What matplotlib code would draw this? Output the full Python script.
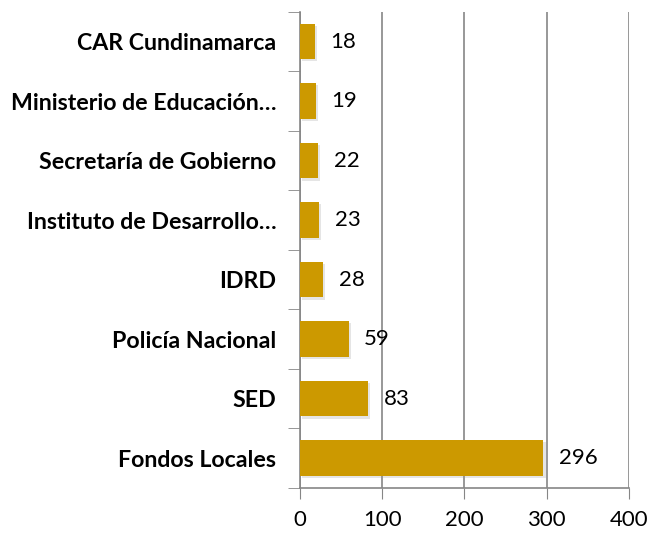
import matplotlib
matplotlib.use("Agg")
from matplotlib import pyplot as plt
from matplotlib import patheffects as pe

categories = ["Fondos Locales", "SED", "Policía Nacional", "IDRD",
              "Instituto de Desarrollo…", "Secretaría de Gobierno",
              "Ministerio de Educación…", "CAR Cundinamarca"]
values = [296, 83, 59, 28, 23, 22, 19, 18]
x_ticks = [0, 100, 200, 300, 400]

plt.rcParams['font.family'] = ['Lato', 'DejaVu Sans']

fig = plt.figure(figsize=(6.54, 5.35), dpi=100)
ax = fig.add_axes([0.4587, 0.088, 0.503, 0.89])

pos = list(range(len(categories)))
bars = ax.barh(pos, values, height=0.6, color="#CC9900", zorder=3)
# soft shadow like the office 3D effect
for b in bars:
    b.set_path_effects([pe.SimplePatchShadow(offset=(1.5, -1.5), shadow_rgbFace="#999999", alpha=0.25), pe.Normal()])

for p, v in zip(pos, values):
    ax.text(v + 19, p, str(v), va="center", ha="left", fontsize=16)

ax.set_xlim(0, 400)
ax.set_ylim(-0.5, len(categories) - 0.5)
ax.set_xticks(x_ticks)
ax.set_xticklabels([str(t) for t in x_ticks], fontsize=16)
ax.set_yticks(pos)
ax.set_yticklabels(categories, fontsize=16.7, fontweight="bold")
ax.tick_params(axis="y", length=0, pad=17)
ax.tick_params(axis="x", length=8, color="#868686", pad=8)
# category separator ticks
ax.set_yticks([p - 0.5 for p in pos] + [len(categories) - 0.5], minor=True)
ax.tick_params(axis="y", which="minor", length=9, color="#868686")

ax.grid(axis="x", color="#868686", linewidth=1.2, zorder=0)
for s in ["top", "right"]:
    ax.spines[s].set_visible(False)
for s in ["left", "bottom"]:
    ax.spines[s].set_color("#868686")
    ax.spines[s].set_linewidth(1.2)

plt.savefig("out.png", dpi=100)
